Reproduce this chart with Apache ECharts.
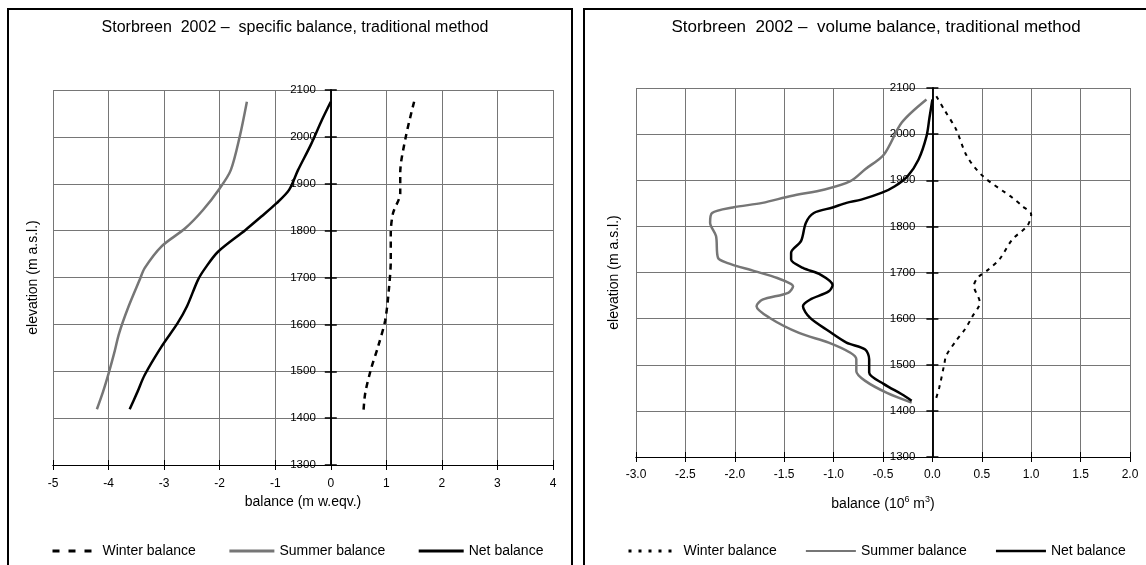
<!DOCTYPE html>
<html><head><meta charset="utf-8">
<script src="https://cdn.jsdelivr.net/npm/echarts@6/dist/echarts.min.js"></script>
<style>html,body{margin:0;padding:0;background:#fff}#c{width:1146px;height:565px}</style>
</head><body><div id="c"></div>
<script>
// ---------- DATA ----------
const seriesNames = ['Winter balance', 'Summer balance', 'Net balance'];
const titles = ['Storbreen  2002 \u2013  specific balance, traditional method',
                'Storbreen  2002 \u2013  volume balance, traditional method'];

// Specific balance (m w.eqv.)
const specWinterElev = [2075,2000,1922,1880,1837,1794,1737,1680,1609,1552,1503,1453,1417];
const specWinter     = [1.50,1.35,1.25,1.25,1.12,1.08,1.08,1.05,0.98,0.85,0.72,0.62,0.59];
const specSummerElev = [2075,2000,1929,1890,1844,1805,1766,1720,1695,1638,1581,1538,1495,1456,1419];
const specSummer     = [-1.51,-1.64,-1.80,-2.00,-2.30,-2.62,-3.05,-3.35,-3.44,-3.64,-3.81,-3.90,-4.00,-4.10,-4.21];
const specNetElev    = [2075,2036,1983,1929,1887,1858,1830,1801,1755,1720,1695,1638,1602,1552,1492,1456,1419];
const specNet        = [0,-0.16,-0.36,-0.59,-0.75,-0.98,-1.25,-1.54,-2.03,-2.26,-2.39,-2.59,-2.76,-3.05,-3.35,-3.48,-3.62];

// Volume balance (10^6 m^3)
const volWinterElev = [2082,2053,2010,1952,1909,1862,1844,1826,1801,1772,1729,1707,1689,1671,1635,1603,1577,1552,1520,1501,1451,1422];
const volWinter     = [0.04,0.12,0.24,0.35,0.51,0.81,0.91,1.00,0.96,0.81,0.68,0.57,0.46,0.42,0.48,0.40,0.33,0.24,0.14,0.12,0.07,0.03];
const volSummerElev = [2075,2025,1956,1924,1898,1880,1866,1851,1841,1829,1808,1779,1732,1721,1703,1688,1670,1656,1641,1627,1602,1569,1548,1526,1512,1486,1465,1439,1418];
const volSummer     = [-0.06,-0.31,-0.49,-0.68,-0.83,-1.09,-1.43,-1.72,-2.02,-2.23,-2.25,-2.19,-2.17,-2.08,-1.80,-1.57,-1.41,-1.46,-1.72,-1.78,-1.65,-1.35,-1.05,-0.83,-0.77,-0.77,-0.68,-0.46,-0.21];
const volNetElev    = [2075,2035,1995,1945,1909,1887,1873,1858,1851,1841,1829,1808,1768,1743,1728,1710,1695,1673,1659,1641,1627,1602,1573,1548,1533,1512,1483,1458,1436,1422];
const volNet        = [0,-0.03,-0.06,-0.14,-0.25,-0.38,-0.51,-0.72,-0.87,-1.01,-1.20,-1.28,-1.33,-1.43,-1.43,-1.31,-1.13,-1.01,-1.05,-1.24,-1.31,-1.24,-1.05,-0.87,-0.68,-0.64,-0.64,-0.49,-0.31,-0.21];

// Axes
const elevMin = 1300, elevMax = 2100, elevStep = 100;
const specXMin = -5, specXMax = 4, specXStep = 1;
const volXMin = -3, volXMax = 2, volXStep = 0.5;

// ---------- CHART ----------
const FONT = 'Arial, "Liberation Sans", sans-serif';
const GRIDC = '#767676';
const grids = [
  {left: 53, top: 90, width: 500, height: 375},
  {left: 636, top: 88, width: 494, height: 369}
];
const pairs = (xs, ys) => xs.map((v, i) => [v, ys[i]]);

function xAxes(grid, min, max, step, fmt, name, gap, margin) {
  const base = {gridIndex: grid, type: 'value', min, max, interval: step, position: 'bottom'};
  return [
    Object.assign({}, base, {
      axisLine: {onZero: false, lineStyle: {color: '#000', width: 1}},
      axisTick: {length: 5, lineStyle: {color: '#000'}},
      axisLabel: {margin, fontSize: 12, color: '#000', fontFamily: FONT, formatter: fmt},
      splitLine: {show: true, lineStyle: {color: GRIDC, width: 1}},
      name, nameLocation: 'middle', nameGap: gap,
      nameTextStyle: {fontSize: 14, color: '#000', fontFamily: FONT,
        rich: {a: {fontSize: 14, fontFamily: FONT, color: '#000'},
               s: {fontSize: 9, fontFamily: FONT, color: '#000', padding: [0, 0, 9, 0]}}}
    }),
    Object.assign({}, base, {
      axisLine: {onZero: false, lineStyle: {color: '#000', width: 1}},
      axisTick: {inside: true, length: 5, lineStyle: {color: '#000'}},
      axisLabel: {show: false}, splitLine: {show: false}
    })
  ];
}
function yAxes(grid, xmin, xmax, margin, nameGap) {
  // place the elevation axis at balance = 0
  const zeroOffset = -grids[grid].width * (0 - xmin) / (xmax - xmin);
  const base = {gridIndex: grid, type: 'value', min: elevMin, max: elevMax, interval: elevStep, position: 'left'};
  return [
    Object.assign({}, base, {
      offset: zeroOffset,
      axisLine: {onZero: false, lineStyle: {color: '#000', width: 1.5}},
      axisTick: {length: 6, lineStyle: {color: '#000', width: 1.5}},
      axisLabel: {margin, fontSize: 11.5, color: '#000', fontFamily: FONT, padding: [0, 0, 11, 0],
                  formatter: v => String(v)},
      splitLine: {show: true, lineStyle: {color: GRIDC, width: 1}}
    }),
    Object.assign({}, base, {
      offset: zeroOffset,
      axisLine: {onZero: false, lineStyle: {color: '#000', width: 1.5}},
      axisTick: {inside: true, length: 6, lineStyle: {color: '#000', width: 1.5}},
      axisLabel: {show: false}, splitLine: {show: false}
    }),
    Object.assign({}, base, {
      axisLine: {show: false, onZero: false}, axisTick: {show: false},
      axisLabel: {show: false}, splitLine: {show: false},
      name: 'elevation (m a.s.l.)', nameLocation: 'middle', nameGap, nameRotate: 90,
      nameTextStyle: {fontSize: 14, color: '#000', fontFamily: FONT}
    })
  ];
}
function line(name, data, xi, yi, color, width, type) {
  return {name, type: 'line', xAxisIndex: xi, yAxisIndex: yi, data, symbol: 'none',
    smooth: 0.3, lineStyle: {color, width, type}, itemStyle: {color}, z: 3, silent: true};
}
const hidden = {opacity: 0};

const chart = echarts.init(document.getElementById('c'), null, {renderer: 'canvas'});
chart.setOption({
  animation: false,
  backgroundColor: '#fff',
  textStyle: {fontFamily: FONT},
  graphic: [
    {type: 'rect', shape: {x: 8, y: 9, width: 564, height: 620}, style: {fill: null, stroke: '#000', lineWidth: 2}, silent: true, z: 0},
    {type: 'rect', shape: {x: 584, y: 9, width: 600, height: 620}, style: {fill: null, stroke: '#000', lineWidth: 2}, silent: true, z: 0}
  ],
  title: [
    {text: titles[0], left: 290, top: 15, textAlign: 'center',
     textStyle: {fontSize: 16, fontWeight: 'normal', color: '#000', fontFamily: FONT}},
    {text: titles[1], left: 871, top: 14, textAlign: 'center',
     textStyle: {fontSize: 17, fontWeight: 'normal', color: '#000', fontFamily: FONT}}
  ],
  grid: grids,
  legend: [
    {left: 46, top: 539, itemWidth: 45, itemHeight: 14, itemGap: 32,
     textStyle: {fontSize: 14, color: '#000', fontFamily: FONT}, selectedMode: false,
     itemStyle: hidden,
     data: [
       {name: seriesNames[0], itemStyle: hidden, lineStyle: {color: '#000', width: 3, type: [7, 9]}},
       {name: seriesNames[1], itemStyle: hidden, lineStyle: {color: GRIDC, width: 3}},
       {name: seriesNames[2], itemStyle: hidden, lineStyle: {color: '#000', width: 3}}
     ]},
    {left: 622, top: 539, itemWidth: 50, itemHeight: 14, itemGap: 28,
     textStyle: {fontSize: 14, color: '#000', fontFamily: FONT}, selectedMode: false,
     itemStyle: hidden,
     data: [
       {name: seriesNames[0], itemStyle: hidden, lineStyle: {color: '#000', width: 3, type: [3, 7]}},
       {name: seriesNames[1], itemStyle: hidden, lineStyle: {color: GRIDC, width: 2}},
       {name: seriesNames[2], itemStyle: hidden, lineStyle: {color: '#000', width: 2.5}}
     ]}
  ],
  xAxis: [].concat(
    xAxes(0, specXMin, specXMax, specXStep, v => String(v), 'balance (m w.eqv.)', 30, 13),
    xAxes(1, volXMin, volXMax, volXStep, v => v.toFixed(1), '{a|balance (10}{s|6}{a| m}{s|3}{a|)}', 38, 12)
  ),
  yAxis: [].concat(yAxes(0, specXMin, specXMax, 15, 13), yAxes(1, volXMin, volXMax, 17, 15)),
  series: [
    line(seriesNames[0], pairs(specWinter, specWinterElev), 0, 0, '#000', 2.5, [6, 5]),
    line(seriesNames[1], pairs(specSummer, specSummerElev), 0, 0, GRIDC, 2.5, 'solid'),
    line(seriesNames[2], pairs(specNet, specNetElev), 0, 0, '#000', 2.5, 'solid'),
    line(seriesNames[0], pairs(volWinter, volWinterElev), 2, 3, '#000', 2, [4, 5]),
    line(seriesNames[1], pairs(volSummer, volSummerElev), 2, 3, GRIDC, 2.5, 'solid'),
    line(seriesNames[2], pairs(volNet, volNetElev), 2, 3, '#000', 2.5, 'solid')
  ]
});
</script></body></html>
